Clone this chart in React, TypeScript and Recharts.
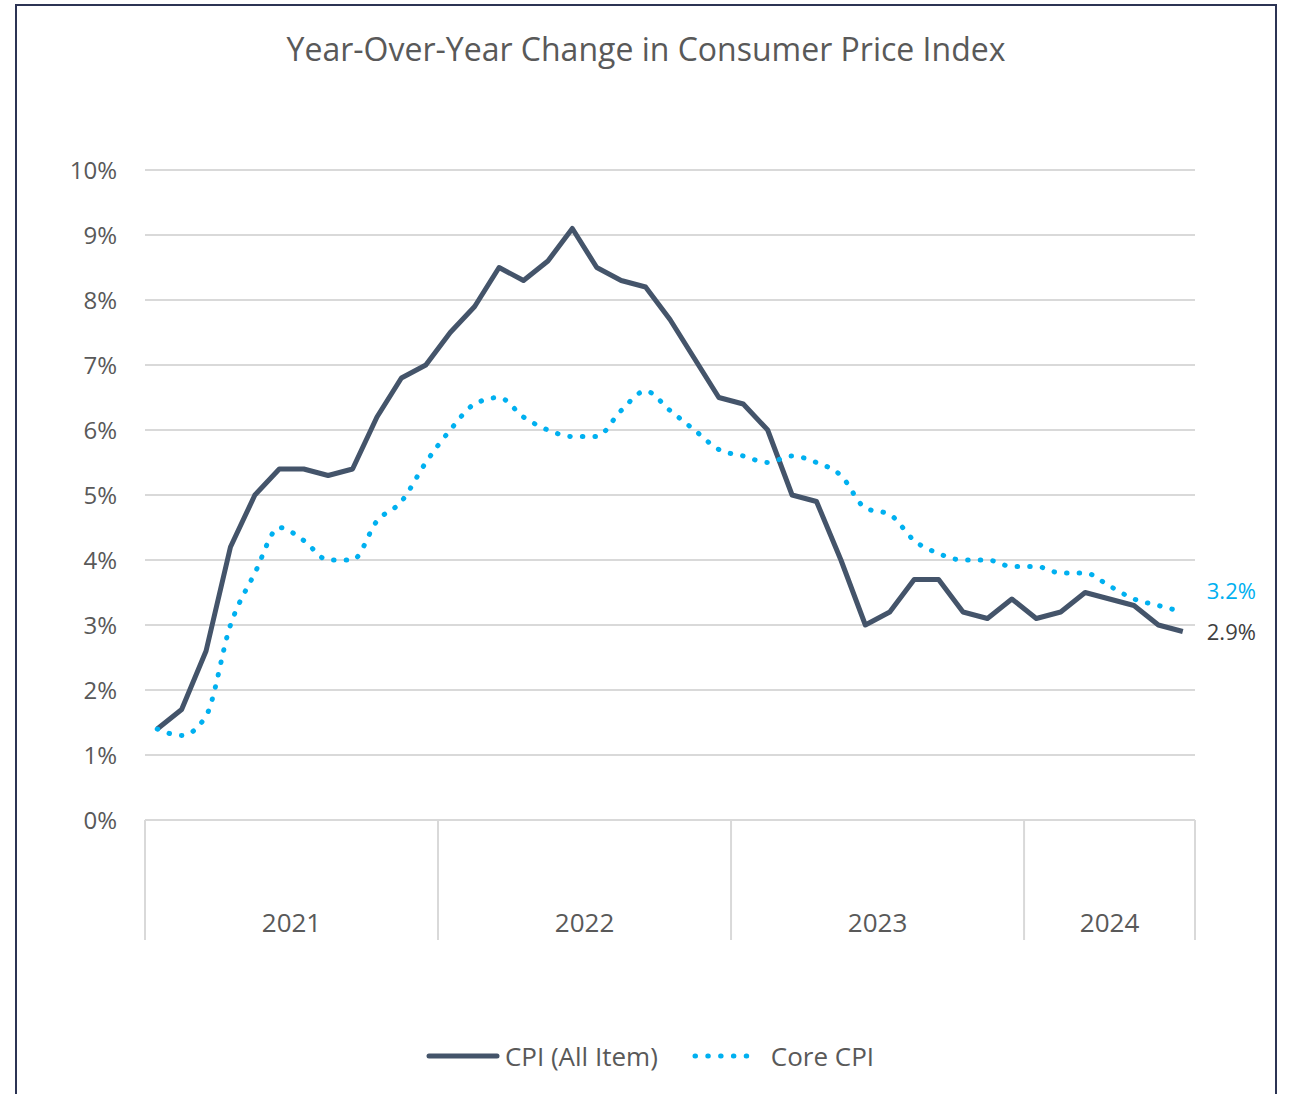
import { LineChart, Line, XAxis, YAxis, CartesianGrid, Legend } from "recharts";

const FONT = "'Open Sans', sans-serif";

const months = [
  "2021-01", "2021-02", "2021-03", "2021-04", "2021-05", "2021-06",
  "2021-07", "2021-08", "2021-09", "2021-10", "2021-11", "2021-12",
  "2022-01", "2022-02", "2022-03", "2022-04", "2022-05", "2022-06",
  "2022-07", "2022-08", "2022-09", "2022-10", "2022-11", "2022-12",
  "2023-01", "2023-02", "2023-03", "2023-04", "2023-05", "2023-06",
  "2023-07", "2023-08", "2023-09", "2023-10", "2023-11", "2023-12",
  "2024-01", "2024-02", "2024-03", "2024-04", "2024-05", "2024-06",
  "2024-07",
];

const years = ["2021", "2022", "2023", "2024"];

// CPI (All Item), % change year over year
const cpiAll = [
  1.4, 1.7, 2.6, 4.2, 5.0, 5.4, 5.4, 5.3, 5.4, 6.2, 6.8, 7.0,
  7.5, 7.9, 8.5, 8.3, 8.6, 9.1, 8.5, 8.3, 8.2, 7.7, 7.1, 6.5,
  6.4, 6.0, 5.0, 4.9, 4.0, 3.0, 3.2, 3.7, 3.7, 3.2, 3.1, 3.4,
  3.1, 3.2, 3.5, 3.4, 3.3, 3.0, 2.9,
];

// Core CPI, % change year over year
const coreCpi = [
  1.4, 1.3, 1.6, 3.0, 3.8, 4.5, 4.3, 4.0, 4.0, 4.6, 4.9, 5.5,
  6.0, 6.4, 6.5, 6.2, 6.0, 5.9, 5.9, 6.3, 6.6, 6.3, 6.0, 5.7,
  5.6, 5.5, 5.6, 5.5, 5.3, 4.8, 4.7, 4.3, 4.1, 4.0, 4.0, 3.9,
  3.9, 3.8, 3.8, 3.6, 3.4, 3.3, 3.2,
];

const yTicks = [0, 1, 2, 3, 4, 5, 6, 7, 8, 9, 10];

const rows = months.map((m, i) => ({ month: m, x: i + 0.5, cpi: cpiAll[i], core: coreCpi[i] }));

// year group edges and centres on the month axis
const counts = years.map((y) => months.filter((m) => m.startsWith(y)).length);
const edges = [0];
counts.forEach((c) => edges.push(edges[edges.length - 1] + c));
const mids = counts.map((c, i) => edges[i] + c / 2);
const xTicks = [...edges, ...mids].sort((a, b) => a - b);

function YearTick({ x, y, payload }: any) {
  const k = mids.indexOf(payload.value);
  if (k >= 0) {
    return (
      <text x={x} y={y + 112} textAnchor="middle" fill="#595959" fontSize={26} fontFamily={FONT}>
        {years[k]}
      </text>
    );
  }
  return <line x1={x} x2={x} y1={y} y2={y + 120} stroke="#d9d9d9" strokeWidth={2} />;
}

const endLabel = (color: string, dy: number) => (props: any) => {
  const { x, y, index, value } = props;
  if (index !== rows.length - 1) return null;
  return (
    <text x={x + 24} y={y + dy} fill={color} fontSize={22} fontFamily={FONT}>
      {Number(value).toFixed(1)}%
    </text>
  );
};

function LegendContent({ payload }: any) {
  return (
    <div
      style={{
        display: "flex",
        justifyContent: "center",
        alignItems: "center",
        height: 40,
        paddingLeft: 9,
        fontFamily: FONT,
        fontSize: 26,
        color: "#595959",
      }}
    >
      {(payload || []).map((p: any, i: number) => {
        const dotted = p.dataKey === "core";
        return (
          <div key={p.value} style={{ display: "flex", alignItems: "center", marginLeft: i === 0 ? 0 : 34 }}>
            <svg width={dotted ? 70 : 74} height={10}>
              {dotted ? (
                <line x1={3} x2={67} y1={5} y2={5} stroke={p.color} strokeWidth={5}
                  strokeDasharray="0.5 12.3" strokeLinecap="round" />
              ) : (
                <line x1={3} x2={71} y1={5} y2={5} stroke={p.color} strokeWidth={5} strokeLinecap="round" />
              )}
            </svg>
            <span style={{ marginLeft: dotted ? 9 : 5 }}>{p.value}</span>
          </div>
        );
      })}
    </div>
  );
}

export default function App() {
  return (
    <div style={{ position: "absolute", left: 0, top: 0, width: 1291, height: 1094, background: "#fff", overflow: "hidden" }}>
      <div
        style={{
          position: "absolute",
          left: 15,
          top: 4,
          width: 1262,
          height: 1200,
          border: "2px solid #2c3454",
          boxSizing: "border-box",
        }}
      />
      <div
        style={{
          position: "absolute",
          left: 15,
          width: 1262,
          top: 27,
          textAlign: "center",
          fontFamily: FONT,
          fontSize: 32,
          lineHeight: "44px",
          color: "#595959",
        }}
      >
        Year-Over-Year Change in Consumer Price Index
      </div>
      <div style={{ position: "absolute", left: 0, top: 0 }}>
        <LineChart width={1291} height={1094} data={rows} margin={{ top: 170, right: 96, left: 0, bottom: 18 }}>
          <CartesianGrid vertical={false} stroke="#d9d9d9" strokeWidth={2} />
          <XAxis
            dataKey="x"
            type="number"
            domain={[0, months.length]}
            ticks={xTicks}
            interval={0}
            height={216}
            tickSize={0}
            tickMargin={0}
            axisLine={{ stroke: "#d9d9d9", strokeWidth: 2 }}
            tickLine={false}
            tick={<YearTick />}
          />
          <YAxis
            type="number"
            domain={[0, 10]}
            ticks={yTicks}
            width={145}
            tickSize={0}
            tickMargin={28}
            axisLine={false}
            tickLine={false}
            tickFormatter={(v) => `${v}%`}
            tick={{ fill: "#595959", fontSize: 24, fontFamily: FONT }}
          />
          <Legend
            verticalAlign="bottom"
            height={40}
            wrapperStyle={{ left: 0, width: 1291 }}
            content={<LegendContent />}
          />
          <Line
            name="CPI (All Item)"
            dataKey="cpi"
            type="linear"
            stroke="#44546a"
            strokeWidth={5}
            strokeLinejoin="round"
            dot={false}
            activeDot={false}
            isAnimationActive={false}
            label={endLabel("#404040", 8)}
          />
          <Line
            name="Core CPI"
            dataKey="core"
            type="monotone"
            stroke="#00b0f0"
            strokeWidth={5}
            strokeDasharray="0.5 12.1"
            strokeLinecap="round"
            dot={false}
            activeDot={false}
            isAnimationActive={false}
            label={endLabel("#00b0f0", -13)}
          />
        </LineChart>
      </div>
    </div>
  );
}
